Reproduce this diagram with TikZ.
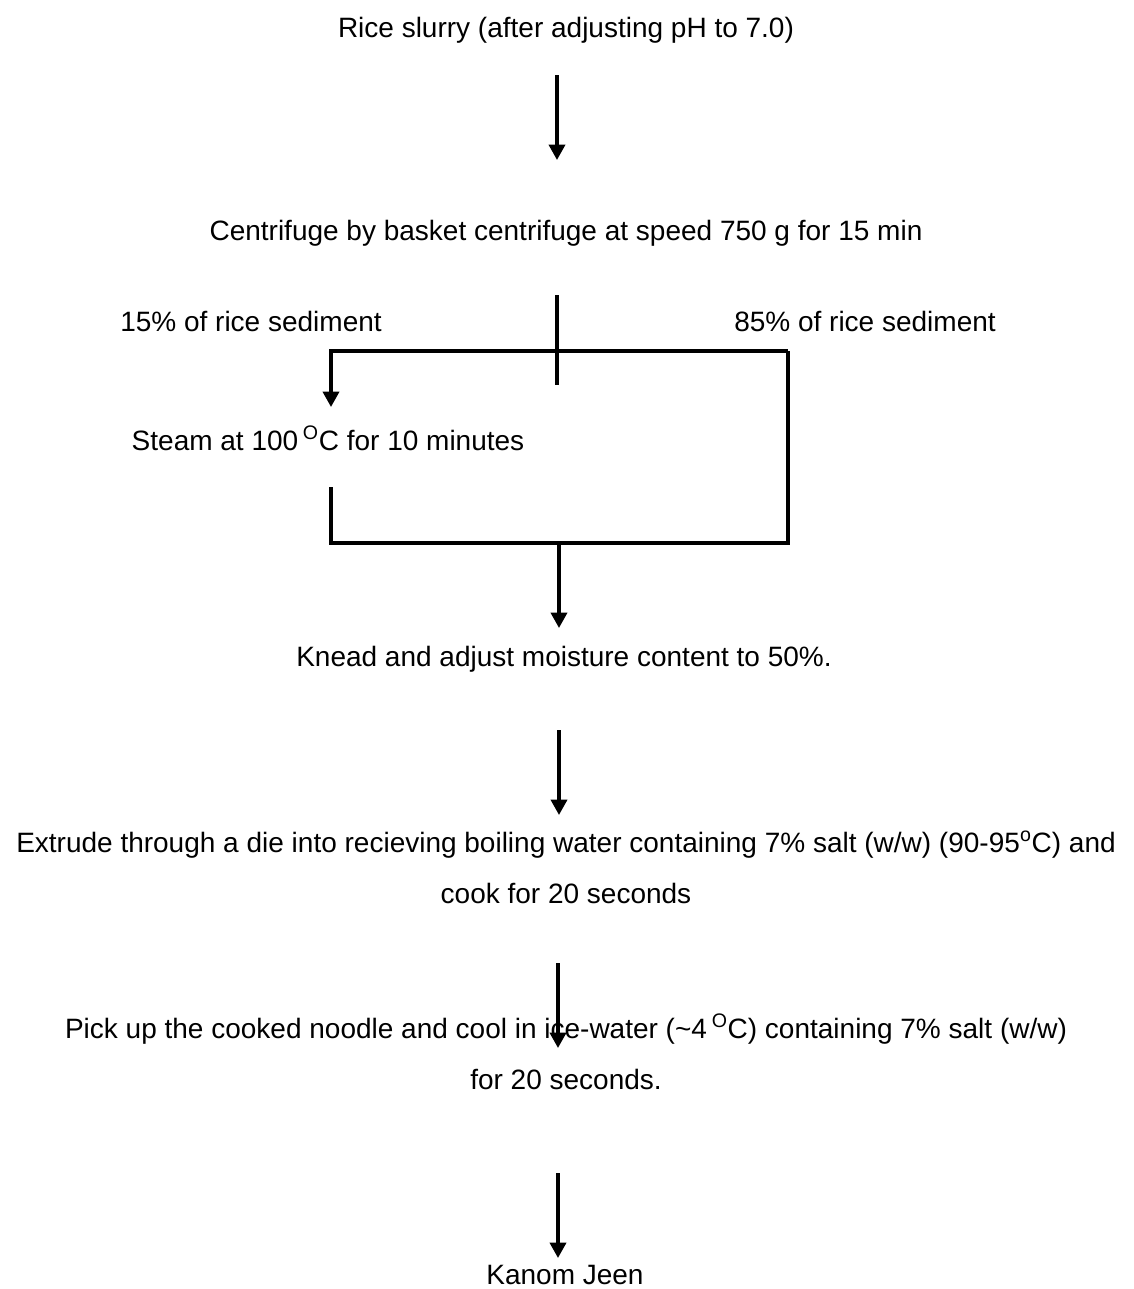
\documentclass[tikz,border=0pt]{standalone}
\usepackage{fontspec}
\setmainfont{Liberation Sans}
\usetikzlibrary{arrows.meta}
\tikzset{>=Stealth}
\tikzset{
    stagetext/.style={font=\fontsize{21}{38.25}\selectfont, anchor=base, inner sep=0pt, align=center},
    flow/.style={line width=2.6pt, -{Triangle[length=11.5pt,width=12pt]}},
    bar/.style={line width=2.6pt}
}

\begin{document}
\begin{tikzpicture}[x=0.75pt,y=-0.75pt]
    \useasboundingbox (0,0) rectangle (1133,1289);
    \node[stagetext] at (566,37) (slurry) {Rice slurry (after adjusting pH to 7.0)};
    \node[stagetext] at (566,240) (centri) {Centrifuge by basket centrifuge at speed 750 g for 15 min};
    \node[stagetext] at (251,331) (part15) {15\% of rice sediment};
    \node[stagetext] at (865,331) (part85) {85\% of rice sediment};
    \node[stagetext] at (328,450) (steam) {Steam at 100\,\textsuperscript{O}C for 10 minutes};
    \node[stagetext] at (564,666) (knead) {Knead and adjust moisture content to 50\%.};
    \node[stagetext] at (566,903) (extrude) {Extrude through a die into recieving boiling water containing 7\% salt (w/w) (90-95\textsuperscript{o}C) and\\cook for 20 seconds};
    \node[stagetext] at (566,1089) (pickup) {Pick up the cooked noodle and cool in ice-water (\textasciitilde 4\,\textsuperscript{O}C) containing 7\% salt (w/w)\\for 20 seconds.};
    \node[stagetext] at (565,1284) (kanom) {Kanom Jeen};
    % arrow ends
    \coordinate (slurryout) at (557,75);
    \coordinate (centriin) at (557,160);
    \coordinate (stemtop) at (557,295);
    \coordinate (stembot) at (557,385);
    \coordinate (splitL) at (331,351);
    \coordinate (splitR) at (788,351);
    \coordinate (steamin) at (331,407);
    \coordinate (steamout) at (331,487);
    \coordinate (joinL) at (331,543);
    \coordinate (joinR) at (788,543);
    \coordinate (joinM) at (559,543);
    \coordinate (kneadin) at (559,628);
    \coordinate (kneadout) at (559,730);
    \coordinate (extrudein) at (559,815);
    \coordinate (extrudeout) at (558,963);
    \coordinate (pickupin) at (558,1048);
    \coordinate (pickupout) at (558,1173);
    \coordinate (kanomin) at (558,1258);
    \draw[flow] (slurryout) -- (centriin);
    \draw[bar] (stemtop) -- (stembot);
    \draw[flow] (splitR) -- (splitL) -- (steamin);
    \draw[bar] (steamout) -- (joinL) -- (joinR) -- (splitR);
    \draw[flow] (joinM) -- (kneadin);
    \draw[flow] (kneadout) -- (extrudein);
    \draw[flow] (extrudeout) -- (pickupin);
    \draw[flow] (pickupout) -- (kanomin);
\end{tikzpicture}
\end{document}
